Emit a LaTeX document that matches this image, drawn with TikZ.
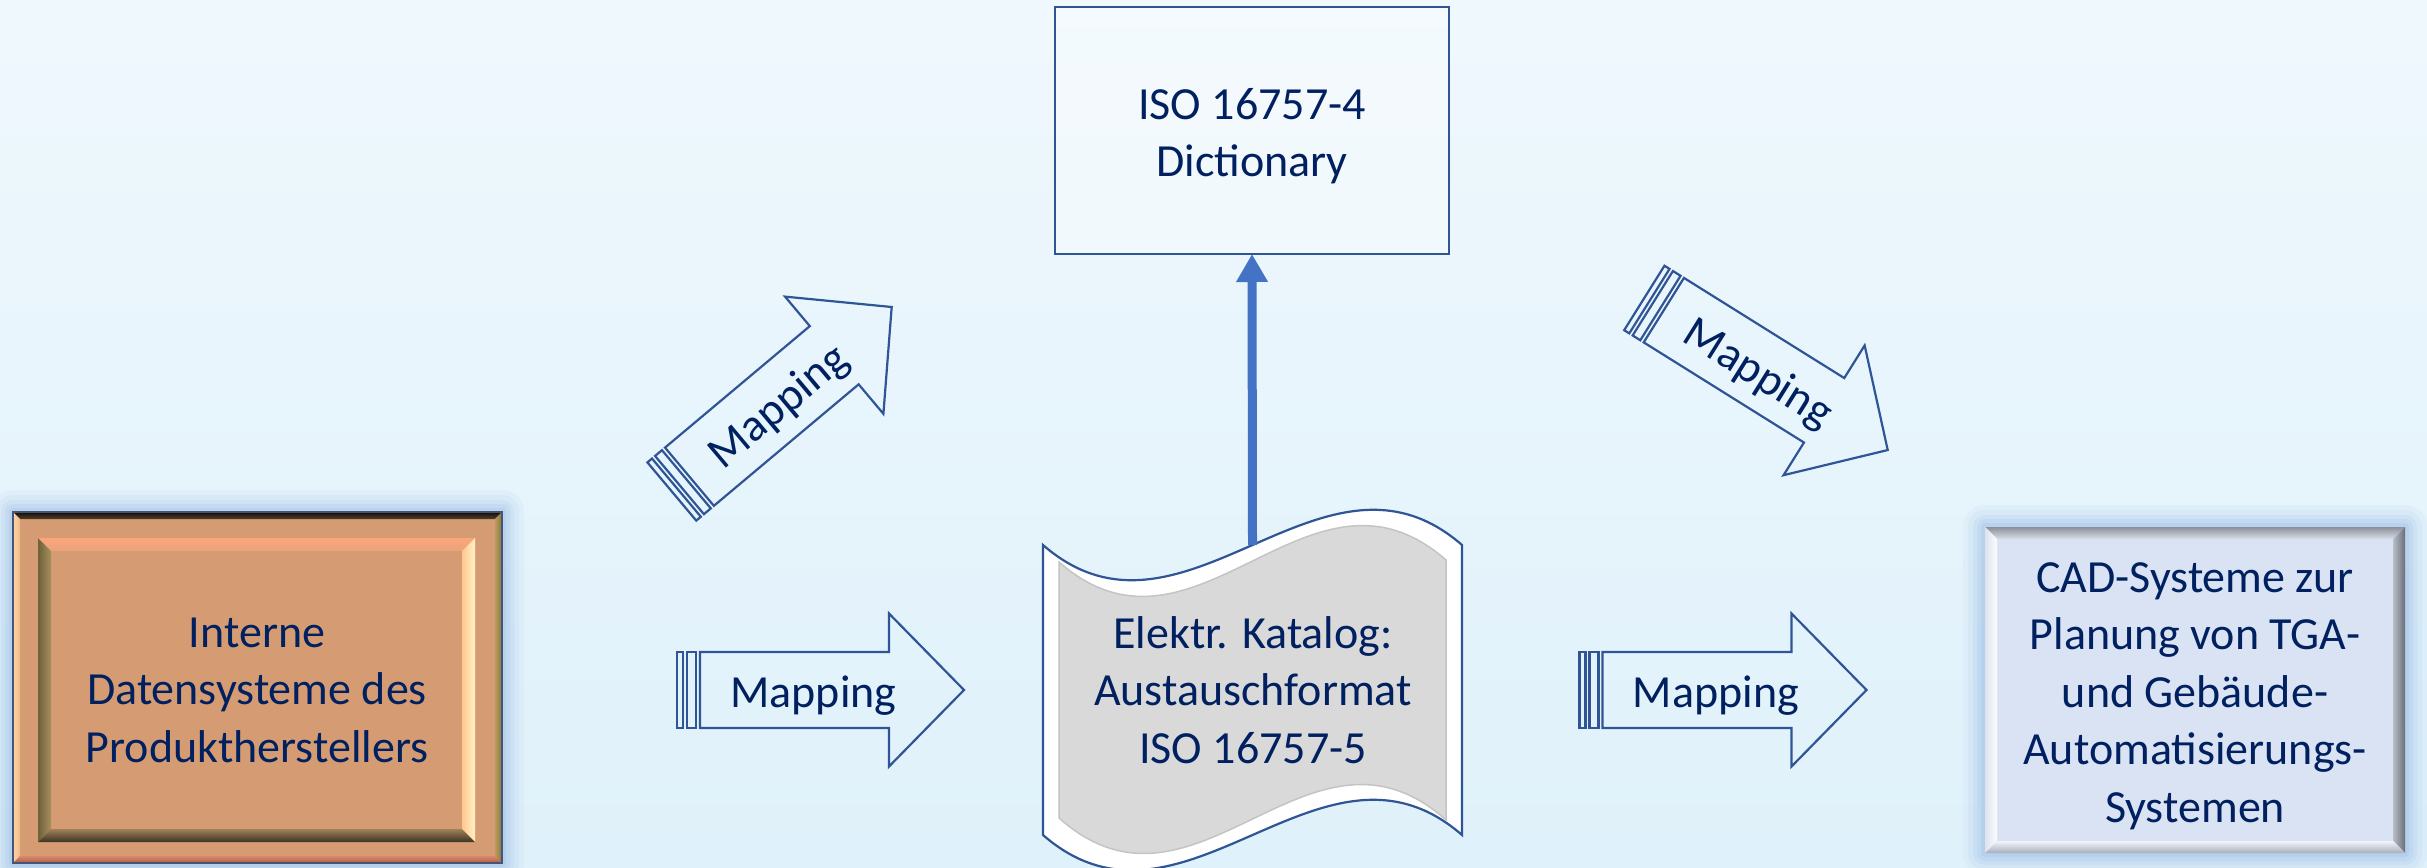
\documentclass[tikz,border=0pt]{standalone}
\usepackage{fontspec}
\setmainfont{Carlito}
\usetikzlibrary{arrows.meta}
\definecolor{txtc}{HTML}{002060}
\definecolor{arrowblue}{HTML}{2F5597}
\definecolor{linkblue}{HTML}{4472C4}
\definecolor{bgtop}{HTML}{EFF8FD}
\definecolor{bgbot}{HTML}{DFF1FA}
\definecolor{glowc}{HTML}{8DB2E2}
\definecolor{orangefill}{HTML}{D59C73}
\definecolor{cadfill}{HTML}{DAE3F3}
\definecolor{scrollfill}{HTML}{D9D9D9}
\tikzset{
  txt/.style={text=txtc, font=\fontsize{46}{57.5}\selectfont, align=center, inner sep=0pt},
  maparrow/.style={draw=arrowblue, line width=2.2pt, line join=miter},
}
\newcommand\stripearrow[4]{%
  \begin{scope}[shift={(#2,#3)}, rotate=#4]
    \draw[maparrow] (-143.5,-38) rectangle (-137.5,38);
    \draw[maparrow] (-133.5,-38) rectangle (-124.5,38);
    \draw[maparrow] (-120.5,-38) -- (68.5,-38) -- (68.5,-76.5) -- (143.5,0) -- (68.5,76.5) -- (68.5,38) -- (-120.5,38) -- cycle;
    \node[txt, transform shape, anchor=base] (#1) at (-7,17) {Mapping};
  \end{scope}}
\begin{document}
\begin{tikzpicture}[x=1pt,y=-1pt]
\useasboundingbox (0,0) rectangle (2427,867);
\shade[top color=bgtop, bottom color=bgbot] (0,0) rectangle (2427,867);

% ---------- glows
\foreach \d/\o in {22/0.07,17/0.09,12/0.12,8/0.15,4/0.2}{
  \fill[glowc, opacity=\o, rounded corners=\d] ({13-\d},{512-\d}) rectangle ({502+\d},{863+\d});
  \fill[glowc, opacity=\o, rounded corners=\d] ({1985-\d},{527-\d}) rectangle ({2405+\d},{853+\d});
}

% ---------- left box (Interne Datensysteme)
\fill[orangefill] (13,512) rectangle (502,863);
\shade[top color=black!90!brown, bottom color={rgb,255:red,80;green,66;blue,40}] (13,512) -- (502,512) -- (495,519) -- (20,519) -- cycle;
\shade[left color={rgb,255:red,255;green,214;blue,166}, right color={rgb,255:red,242;green,184;blue,138}] (13,512) -- (20,519) -- (20,856) -- (13,863) -- cycle;
\shade[left color={rgb,255:red,184;green,156;blue,92}, right color={rgb,255:red,138;green,116;blue,64}] (502,512) -- (502,863) -- (495,856) -- (495,519) -- cycle;
\shade[top color={rgb,255:red,217;green,138;blue,106}, bottom color={rgb,255:red,180;green,90;blue,66}] (13,863) -- (20,856) -- (495,856) -- (502,863) -- cycle;
\draw[color={rgb,255:red,68;green,85;blue,122}, line width=1.2pt] (13,512) rectangle (502,863);
% inner bevel
\shade[top color={rgb,255:red,251;green,165;blue,124}, bottom color={rgb,255:red,233;green,164;blue,122}] (38,538) -- (475,538) -- (462,551) -- (51,551) -- cycle;
\shade[left color={rgb,255:red,110;green,96;blue,56}, right color={rgb,255:red,168;green,144;blue,96}] (38,538) -- (51,551) -- (51,829) -- (38,842) -- cycle;
\shade[left color={rgb,255:red,255;green,200;blue,144}, right color={rgb,255:red,255;green,242;blue,196}] (475,538) -- (475,842) -- (462,829) -- (462,551) -- cycle;
\shade[top color={rgb,255:red,160;green,128;blue,88}, bottom color={rgb,255:red,60;green,52;blue,36}] (38,842) -- (51,829) -- (462,829) -- (475,842) -- cycle;
\node[txt] (tint) at (257,690) {Interne\\Datensysteme des\\Produktherstellers};

% ---------- right box (CAD)
\fill[cadfill] (1985,527) rectangle (2405,853);
\shade[top color={rgb,255:red,140;green,144;blue,154}, bottom color={rgb,255:red,217;green,222;blue,232}] (1985,527) -- (2405,527) -- (2393,539) -- (1997,539) -- cycle;
\shade[left color={rgb,255:red,221;green,227;blue,238}, right color={rgb,255:red,251;green,252;blue,254}] (1985,527) -- (1997,539) -- (1997,841) -- (1985,853) -- cycle;
\shade[left color={rgb,255:red,184;green,189;blue,200}, right color={rgb,255:red,106;green,110;blue,120}] (2405,527) -- (2405,853) -- (2393,841) -- (2393,539) -- cycle;
\shade[top color={rgb,255:red,242;green,245;blue,250}, bottom color={rgb,255:red,168;green,174;blue,186}] (1985,853) -- (1997,841) -- (2393,841) -- (2405,853) -- cycle;
\node[txt] (tcad) at (2195,696) {CAD-Systeme zur\\Planung von TGA-\\und Gebäude-\\Automatisierungs-\\Systemen};

% ---------- scroll (Elektr. Katalog)
\filldraw[draw=arrowblue, line width=2.2pt, fill=white] (1043,545) .. controls (1183,667) and (1322,423) .. (1462,545) -- (1462,835) .. controls (1322,713) and (1183,957) .. (1043,835) -- cycle;
\filldraw[draw={rgb,255:red,196;green,196;blue,196}, line width=1.5pt, fill=scrollfill] (1059,562) .. controls (1196,682) and (1309,440) .. (1446,560) -- (1446,820) .. controls (1309,698) and (1196,940) .. (1059,818) -- cycle;
\node[txt] (tcat) at (1253,690) {Elektr. Katalog:\\Austauschformat\\ISO 16757-5};
\coordinate (junc) at (1252.5,545);

% ---------- dictionary box
\node[draw=arrowblue, line width=2.5pt, fill=white, fill opacity=0.35, minimum width=394pt, minimum height=247pt, inner sep=0pt, outer sep=0pt] (dict) at (1252,130.5) {};
\node[txt] (tdict) at (1252,136) {ISO 16757-4\\Dictionary};

\draw[line width=9pt, color=linkblue, -{Triangle[width=30pt, length=28pt]}] (junc) -- (dict.south);

% ---------- mapping arrows
\stripearrow{m1}{820.5}{690}{0}
\stripearrow{m2}{1723}{690}{0}
\stripearrow{m3}{781.75}{399.25}{40}
\stripearrow{m4}{1766}{374}{-32}
\end{tikzpicture}
\end{document}
